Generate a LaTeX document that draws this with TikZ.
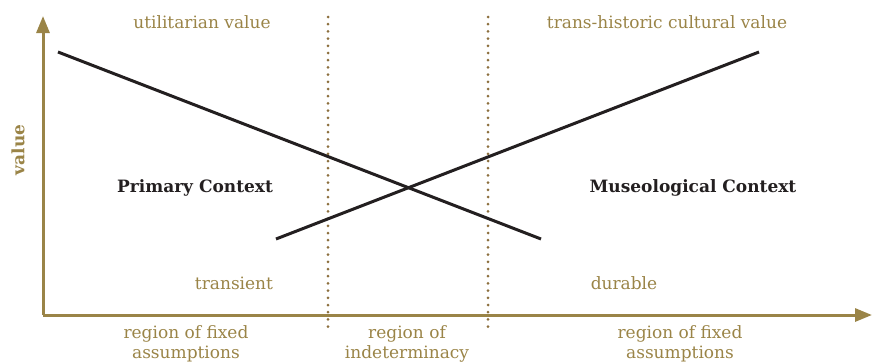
\documentclass[tikz,border=0pt]{standalone}
\usepackage{fontspec}
\setmainfont{DejaVu Serif}
\usetikzlibrary{arrows.meta}
\definecolor{gold}{HTML}{9A8447}
\definecolor{dotgold}{HTML}{8C6F3E}
\definecolor{ink}{HTML}{231F20}
\begin{document}
\begin{tikzpicture}[x=1pt,y=-1pt,
  axis/.style={draw=gold,line width=3pt,-{Triangle[length=17pt,width=13pt]}},
  divider/.style={draw=dotgold,line width=3pt,line cap=round,dash pattern=on 0pt off 7.2pt},
  trend/.style={draw=ink,line width=3pt},
  goldlbl/.style={text=gold,font=\fontsize{17}{20}\selectfont,align=center,inner sep=0pt},
  ctx/.style={text=ink,font=\fontsize{17}{20}\selectfont\bfseries,inner sep=0pt}]
\useasboundingbox (0,0) rectangle (873,362);
\coordinate (o) at (43,315);
\coordinate (ytop) at (43,16);
\coordinate (xend) at (872,315);
\coordinate (d1t) at (328,17); \coordinate (d1b) at (328,328);
\coordinate (d2t) at (488,17); \coordinate (d2b) at (488,328);
\coordinate (a1) at (58,52); \coordinate (a2) at (541,239);
\coordinate (b1) at (276,239); \coordinate (b2) at (759,52);
\draw[divider] (d1t) -- (d1b);
\draw[divider] (d2t) -- (d2b);
\draw[axis] (o) -- (ytop);
\draw[axis] (o) -- (xend);
\draw[trend] (a1) -- (a2);
\draw[trend] (b1) -- (b2);
\node[goldlbl,font=\fontsize{17}{20}\selectfont\bfseries,rotate=90] (val) at (18,150) {value};
\node[goldlbl] (util) at (202,22) {utilitarian value};
\node[goldlbl] (trans) at (667,22) {trans-historic cultural value};
\node[ctx] (prim) at (195,188) {Primary Context};
\node[ctx] (mus) at (693,188) {Museological Context};
\node[goldlbl] (tr) at (234,283) {transient};
\node[goldlbl] (du) at (624,283) {durable};
\node[goldlbl,anchor=north] (r1) at (186,325) {region of fixed\\assumptions};
\node[goldlbl,anchor=north] (r2) at (407,325) {region of\\indeterminacy};
\node[goldlbl,anchor=north] (r3) at (680,325) {region of fixed\\assumptions};
\end{tikzpicture}
\end{document}
